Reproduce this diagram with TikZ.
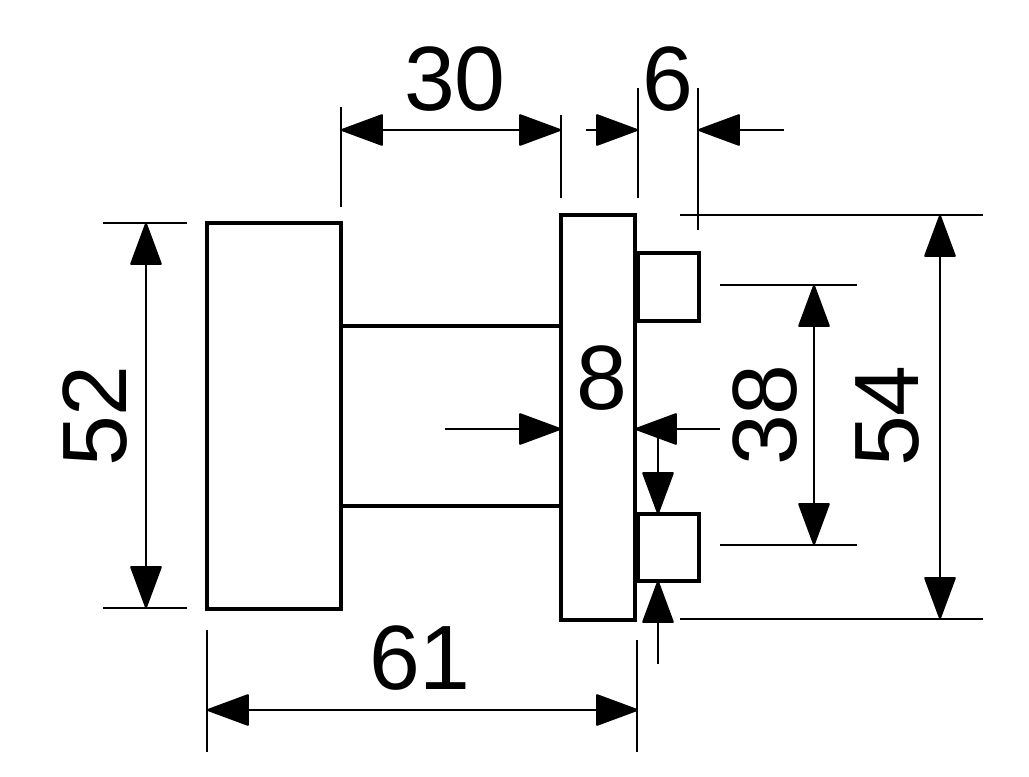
\documentclass[tikz,border=0pt]{standalone}
\usepackage{fontspec}
\setmainfont{Liberation Sans}
\usetikzlibrary{arrows.meta}
\tikzstyle{part} = [draw=black, line width=2.2pt, fill=white]
\tikzstyle{stem} = [draw=black, line width=1.8pt]
\tikzstyle{extline} = [draw=black, line width=1.2pt]
\tikzstyle{dimline} = [draw=black, line width=1.2pt, >={Triangle[length=0.88cm,width=0.64cm,round]}]
\tikzstyle{dimtext} = [font=\fontsize{52}{52}\selectfont, inner sep=0pt]

\begin{document}
\begin{tikzpicture}[x=0.02cm,y=-0.02cm]
    \useasboundingbox (0,0) rectangle (1029,777);

    % points of the dimension lines
    \coordinate (headL) at (341,130);
    \coordinate (plateL) at (561,130);
    \coordinate (plateR) at (638,130);
    \coordinate (plateRin) at (586,130);
    \coordinate (lugR) at (698,130);
    \coordinate (lugRin) at (784,130);
    \coordinate (plateTop) at (940,215);
    \coordinate (plateBot) at (940,619);
    \coordinate (lugTop) at (814,285);
    \coordinate (lugBot) at (814,545);
    \coordinate (headTop) at (146,223);
    \coordinate (headBot) at (146,608);
    \coordinate (allL) at (207,710);
    \coordinate (allR) at (638,710);
    \coordinate (thickL) at (561,429);
    \coordinate (thickLin) at (445,429);
    \coordinate (thickR) at (635,429);
    \coordinate (thickRin) at (720,429);
    \coordinate (gapFrom) at (658,429);
    \coordinate (gapTop) at (658,514);
    \coordinate (gapBot) at (658,581);
    \coordinate (gapBotin) at (658,664);

    % extension lines
    \draw [extline] (341,107) -- (341,207);
    \draw [extline] (561,115) -- (561,198);
    \draw [extline] (638,88) -- (638,198);
    \draw [extline] (698,88) -- (698,230);
    \draw [extline] (680,215) -- (983,215);
    \draw [extline] (680,619) -- (983,619);
    \draw [extline] (720,285) -- (857,285);
    \draw [extline] (720,545) -- (857,545);
    \draw [extline] (103,223) -- (187,223);
    \draw [extline] (103,608) -- (187,608);
    \draw [extline] (207,630) -- (207,752);
    \draw [extline] (637,640) -- (637,752);

    % the parts
    \draw [stem] (341,326) -- (561,326);
    \draw [stem] (341,506) -- (561,506);
    \draw [part] (207,223) rectangle (341,609);
    \draw [part] (638,253) rectangle (699,321);
    \draw [part] (638,514) rectangle (699,581);
    \draw [part] (561,215) rectangle (635,620);

    % dimension lines
    \draw [dimline,<->] (headL) -- (plateL);
    \draw [dimline,->] (plateRin) -- (plateR);
    \draw [dimline,->] (lugRin) -- (lugR);
    \draw [dimline,<->] (plateTop) -- (plateBot);
    \draw [dimline,<->] (lugTop) -- (lugBot);
    \draw [dimline,<->] (headTop) -- (headBot);
    \draw [dimline,<->] (allL) -- (allR);
    \draw [dimline,->] (thickLin) -- (thickL);
    \draw [dimline,->] (thickRin) -- (thickR);
    \draw [dimline,->] (gapFrom) -- (gapTop);
    \draw [dimline,->] (gapBotin) -- (gapBot);

    % labels
    \node (label30) [dimtext] at (455,79) {30};
    \node (label6) [dimtext] at (668,79) {6};
    \node (label61) [dimtext] at (420,658) {61};
    \node (label52) [dimtext, rotate=90] at (95,416) {52};
    \node (label8) [dimtext] at (602,378) {8};
    \node (label38) [dimtext, rotate=90] at (765,415) {38};
    \node (label54) [dimtext, rotate=90] at (888,416) {54};
\end{tikzpicture}
\end{document}
